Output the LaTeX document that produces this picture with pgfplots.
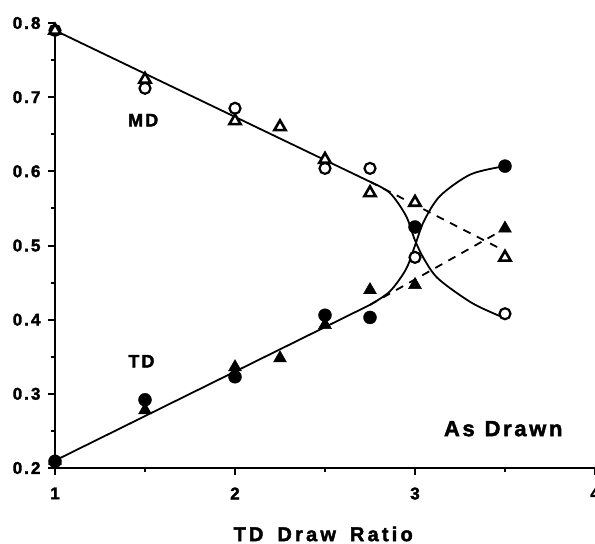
\documentclass[border=0pt]{standalone}
\usepackage{pgfplots}
\pgfplotsset{compat=1.18}
\usepackage{fontspec}
\setmainfont{Liberation Sans}[LetterSpace=12, BoldFeatures={FakeBold=2}]
\begin{document}
\begin{tikzpicture}[x=1pt,y=1pt]
\path[use as bounding box] (0,0) rectangle (595,544);
\begin{axis}[
  at={(55pt,76pt)}, anchor=south west,
  scale only axis, width=540pt, height=445pt,
  xmin=1, xmax=4, ymin=0.2, ymax=0.8,
  axis lines=left, axis line style={-, line width=2.2pt},
  xtick={1,2,3,4}, ytick={0.2,0.3,0.4,0.5,0.6,0.7,0.8},
  yticklabels={0.2,0.3,0.4,0.5,0.6,0.7,0.8},
  minor tick num=1,
  tick align=outside,
  major tick length=7pt, minor tick length=4pt,
  every tick/.style={black, line width=2pt},
  every tick label/.append style={font=\fontsize{17}{20}\selectfont\bfseries},
  /pgf/number format/assume math mode=true,
  xticklabel style={yshift=-9pt},
  yticklabel style={xshift=-4pt},
  clip=false,
]
% straight fits
\addplot[black, line width=1.8pt] coordinates {(1,0.79) (2.75,0.586)};
\addplot[black, line width=1.8pt] coordinates {(1,0.21) (2.75,0.42)};
% curves
\addplot[black, line width=1.8pt, smooth] coordinates {(2.75,0.586) (2.86,0.571) (2.95,0.54) (3.0,0.507) (3.05,0.482) (3.13,0.455) (3.32,0.422) (3.5,0.402)};
\addplot[black, line width=1.8pt, smooth] coordinates {(2.75,0.42) (2.86,0.438) (2.95,0.468) (3.0,0.5) (3.05,0.533) (3.14,0.567) (3.31,0.596) (3.5,0.607)};
% dashed
\addplot[black, line width=1.8pt, dash pattern=on 8pt off 7pt] coordinates {(2.75,0.586) (3.48,0.495)};
\addplot[black, line width=1.8pt, dash pattern=on 8pt off 7pt] coordinates {(2.75,0.42) (3.48,0.52)};
% MD open circles
\addplot[only marks, mark=*, mark size=5.5pt, mark options={fill=white, draw=black, line width=2.2pt}]
  coordinates {(1,0.79) (1.5,0.712) (2,0.685) (2.5,0.604) (2.75,0.604) (3,0.484) (3.5,0.408)};
% MD open triangles
\addplot[only marks, mark=triangle*, mark size=6.5pt, mark options={fill=white, draw=black, line width=2.6pt}]
  coordinates {(1,0.79) (1.5,0.724) (2,0.668) (2.25,0.66) (2.5,0.616) (2.75,0.571) (3,0.558) (3.5,0.484)};
% TD filled circles
\addplot[only marks, mark=*, mark size=6.5pt, mark options={fill=black, draw=black}]
  coordinates {(1,0.209) (1.5,0.292) (2,0.323) (2.5,0.406) (2.75,0.403) (3,0.525) (3.5,0.607)};
% TD filled triangles
\addplot[only marks, mark=triangle*, mark size=7.5pt, mark options={fill=black, draw=black}]
  coordinates {(1,0.21) (1.5,0.278) (2,0.336) (2.25,0.348) (2.5,0.393) (2.75,0.44) (3,0.447) (3.5,0.523)};
\node[font=\fontsize{18}{21}\selectfont\bfseries] at (axis cs:1.49,0.669) {MD};
\node[font=\fontsize{18}{21}\selectfont\bfseries] at (axis cs:1.48,0.344) {TD};
\node[font=\fontsize{22}{25}\selectfont\bfseries] at (axis cs:3.49,0.253) {As\hspace{0.45em}Drawn};
\node[font=\fontsize{20}{23}\selectfont\bfseries\addfontfeature{LetterSpace=16}] at (axis cs:2.49,0.2) [yshift=-66pt] {TD\hspace{0.7em}Draw\hspace{0.7em}Ratio};
\end{axis}
\end{tikzpicture}
\end{document}
